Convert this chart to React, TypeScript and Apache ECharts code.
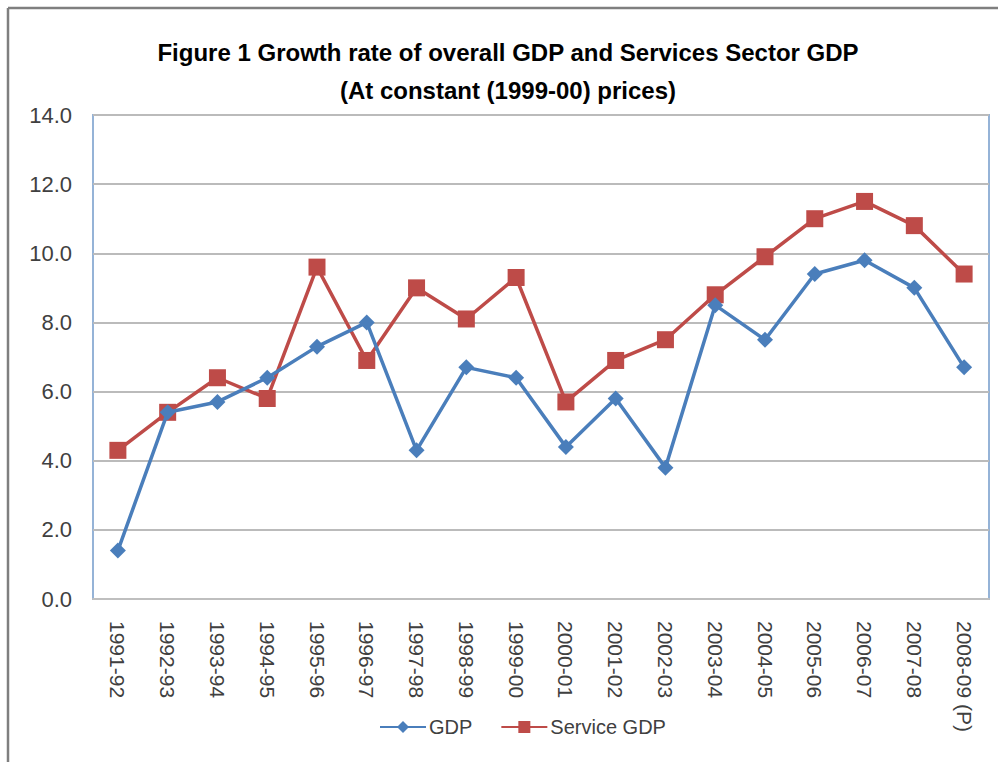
import React, { useEffect, useRef } from "react";
import * as echarts from "echarts";

const categories = [
  "1991-92", "1992-93", "1993-94", "1994-95", "1995-96", "1996-97", "1997-98", "1998-99", "1999-00",
  "2000-01", "2001-02", "2002-03", "2003-04", "2004-05", "2005-06", "2006-07", "2007-08", "2008-09 (P)",
];
const gdpValues = [1.4, 5.4, 5.7, 6.4, 7.3, 8.0, 4.3, 6.7, 6.4, 4.4, 5.8, 3.8, 8.5, 7.5, 9.4, 9.8, 9.0, 6.7];
const serviceGdpValues = [4.3, 5.4, 6.4, 5.8, 9.6, 6.9, 9.0, 8.1, 9.3, 5.7, 6.9, 7.5, 8.8, 9.9, 11.0, 11.5, 10.8, 9.4];
const titleLines = ["Figure 1 Growth rate of overall GDP and Services Sector GDP", "(At constant (1999-00) prices)"];
const yMin = 0;
const yMax = 14;
const yStep = 2;

const condensed = '"Liberation Sans Narrow", "Arial Narrow", "Liberation Sans", sans-serif';

export default function App() {
  const ref = useRef<HTMLDivElement>(null);
  useEffect(() => {
    if (!ref.current) return;
    const chart = echarts.init(ref.current, undefined, { renderer: "svg" });
    chart.setOption({
      animation: false,
      backgroundColor: "#ffffff",
      title: {
        text: titleLines.join("\n"),
        left: 503,
        textAlign: "center",
        top: 28,
        textStyle: {
          fontFamily: condensed,
          fontWeight: "bold",
          fontSize: 24,
          lineHeight: 38,
          color: "#000000",
        },
      },
      graphic: [
        { type: "line", shape: { x1: 8, y1: 8, x2: 998, y2: 8 }, style: { stroke: "#7f7f7f", lineWidth: 2.5 } },
        { type: "line", shape: { x1: 8, y1: 8, x2: 8, y2: 762 }, style: { stroke: "#7f7f7f", lineWidth: 2.5 } },
      ],
      legend: {
        bottom: 20,
        left: 374,
        itemGap: 28,
        itemWidth: 46,
        itemHeight: 15,
        textStyle: { fontFamily: condensed, fontSize: 20, color: "#404040", padding: [0, 0, 0, -2] },
        data: ["GDP", "Service GDP"],
      },
      grid: {
        left: 93,
        top: 115,
        right: 9,
        bottom: 163,
        show: true,
        borderColor: "#95B3D7",
        borderWidth: 2,
        containLabel: false,
      },
      xAxis: {
        type: "category",
        data: categories,
        boundaryGap: true,
        axisLine: { show: true, lineStyle: { color: "#BFBFBF", width: 2 } },
        axisTick: { show: false },
        axisLabel: {
          rotate: -90,
          margin: 22,
          interval: 0,
          fontFamily: '"Liberation Sans", Arial, sans-serif',
          fontSize: 21,
          color: "#404040",
        },
      },
      yAxis: {
        type: "value",
        min: yMin,
        max: yMax,
        interval: yStep,
        axisLine: { show: false },
        axisTick: { show: false },
        splitLine: { lineStyle: { color: "#BBBBBB", width: 2 } },
        axisLabel: {
          margin: 21,
          fontFamily: condensed,
          fontSize: 22,
          color: "#404040",
          formatter: (v: number) => v.toFixed(1),
        },
      },
      series: [
        {
          name: "GDP",
          type: "line",
          data: gdpValues,
          color: "#4A7EBB",
          lineStyle: { width: 3.5, color: "#4A7EBB" },
          symbol: "diamond",
          symbolSize: 16,
          itemStyle: { color: "#4A7EBB" },
          z: 3,
        },
        {
          name: "Service GDP",
          type: "line",
          data: serviceGdpValues,
          color: "#BE4B48",
          lineStyle: { width: 3.5, color: "#BE4B48" },
          symbol: "rect",
          symbolSize: 17,
          itemStyle: { color: "#BE4B48" },
          z: 2,
        },
      ],
    });
    return () => chart.dispose();
  }, []);
  return (
    <div
      ref={ref}
      style={{ position: "fixed", left: 0, top: 0, width: 998, height: 762 }}
    />
  );
}
